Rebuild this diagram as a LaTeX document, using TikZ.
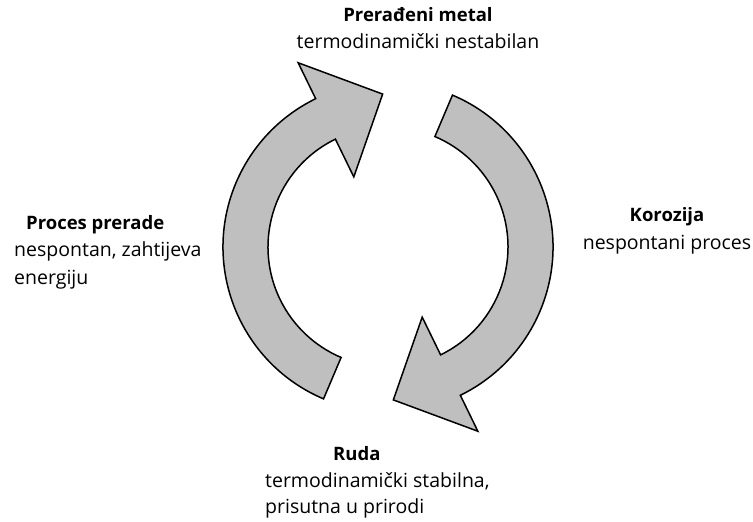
\documentclass[tikz,border=0pt]{standalone}
\usepackage{fontspec}
\setmainfont{Open Sans}
\begin{document}
\begin{tikzpicture}[x=1pt,y=1pt,
  cyc/.style={draw=black, line width=1.5pt, fill=arrowgray, line join=miter},
  lbl/.style={inner sep=0pt, text height=13pt, text depth=5pt, font=\fontsize{19.5}{23}\selectfont},
  ttl/.style={lbl, font=\fontsize{18.5}{22}\selectfont\bfseries}]
\definecolor{arrowgray}{RGB}{191,191,191}
\useasboundingbox (0,0) rectangle (753,522);
\coordinate (c) at (388,275);
\begin{scope}[shift={(c)}]
  % left arrow (upward)
  \draw[cyc] (247:165) arc[start angle=247, end angle=116, radius=165]
    -- (116:205) -- (92:153) -- (116:78) -- (116:120)
    arc[start angle=116, end angle=247, radius=120] -- cycle;
  % right arrow (downward)
  \draw[cyc] (67:165) arc[start angle=67, end angle=-64, radius=165]
    -- (-64:205) -- (-88:153) -- (-64:78) -- (-64:120)
    arc[start angle=-64, end angle=67, radius=120] -- cycle;
\end{scope}
% top
\node[ttl] (pm) at (418,522-18) {Prerađeni metal};
\node[lbl] (pmd) at (418,522-45) {termodinamički nestabilan};
% left
\node[ttl, anchor=west] (pp) at (26,522-226) {Proces prerade};
\node[lbl, anchor=west] (ppd1) at (14,522-253) {nespontan, zahtijeva};
\node[lbl, anchor=west] (ppd2) at (14,522-281) {energiju};
% right
\node[ttl] (ko) at (667,522-218) {Korozija};
\node[lbl] (kod) at (667,522-246) {nespontani proces};
% bottom
\node[ttl, anchor=west] (ru) at (333,522-457) {Ruda};
\node[lbl, anchor=west] (rud1) at (265,522-484) {termodinamički stabilna,};
\node[lbl, anchor=west] (rud2) at (265,522-510) {prisutna u prirodi};
\end{tikzpicture}
\end{document}
